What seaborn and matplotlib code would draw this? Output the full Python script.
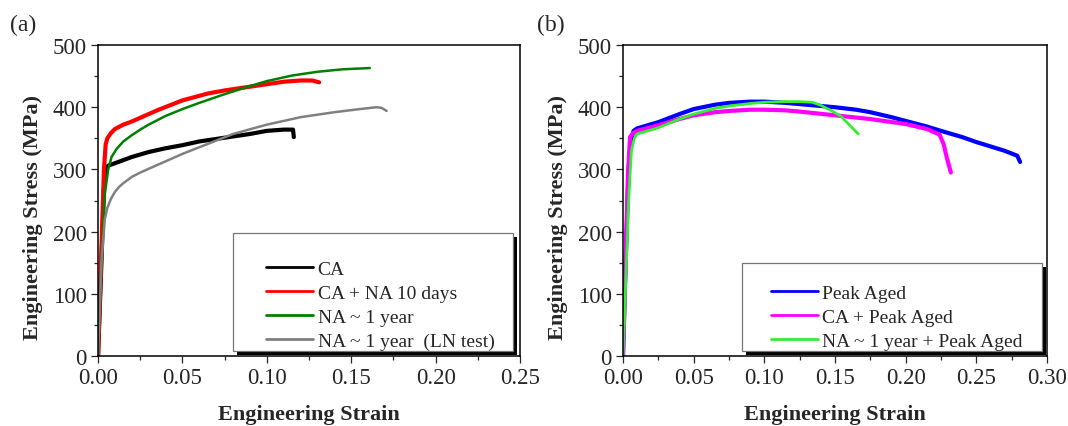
import matplotlib
matplotlib.use('Agg')
import matplotlib.pyplot as plt
from matplotlib.patches import Rectangle
from matplotlib.ticker import MultipleLocator
import seaborn as sns
import pandas as pd

# (a) 곡선 데이터 --------------------------------------------------------
ca_strain = [0, 0.002, 0.0035, 0.0045, 0.006, 0.01, 0.015, 0.02, 0.03, 0.04, 0.05, 0.06, 0.075, 0.09, 0.10, 0.11, 0.1155, 0.116]
ca_stress = [0, 150, 270, 302, 306, 310, 315, 320, 328, 334, 339, 345, 351, 357, 362, 364, 364, 352]

cana_strain = [0, 0.002, 0.0035, 0.0045, 0.0055, 0.0075, 0.01, 0.015, 0.02, 0.025, 0.035, 0.05, 0.065, 0.075, 0.09, 0.10, 0.11, 0.12, 0.127, 0.131]
cana_stress = [0, 170, 300, 340, 350, 358, 365, 372, 377, 383, 395, 411, 422, 427, 433, 437, 441, 443, 443, 440]

na_strain = [0, 0.002, 0.004, 0.006, 0.008, 0.011, 0.015, 0.02, 0.025, 0.03, 0.04, 0.05, 0.06, 0.075, 0.09, 0.10, 0.115, 0.13, 0.145, 0.161]
na_stress = [0, 150, 260, 300, 320, 333, 345, 355, 364, 372, 386, 397, 407, 421, 434, 442, 451, 457, 461, 463]

ln_strain = [0, 0.002, 0.004, 0.0055, 0.0075, 0.01, 0.0125, 0.015, 0.02, 0.025, 0.03, 0.04, 0.05, 0.065, 0.08, 0.10, 0.12, 0.14, 0.155, 0.165, 0.168, 0.171]
ln_stress = [0, 150, 220, 238, 252, 264, 272, 278, 288, 295, 301, 313, 325, 341, 357, 372, 384, 392, 397, 400, 399, 394]

# (b) 곡선 데이터 --------------------------------------------------------
pa_strain = [0, 0.002, 0.004, 0.0055, 0.0075, 0.01, 0.025, 0.04, 0.05, 0.065, 0.075, 0.09, 0.10, 0.115, 0.125, 0.14, 0.15, 0.165, 0.175, 0.19, 0.20, 0.215, 0.225, 0.24, 0.25, 0.27, 0.279, 0.281]
pa_stress = [0, 160, 300, 345, 362, 366, 376, 389, 397, 404, 407, 409, 409, 407, 405, 402, 400, 396, 392, 384, 378, 369, 362, 352, 344, 330, 322, 312]

capa_strain = [0, 0.002, 0.0035, 0.005, 0.007, 0.01, 0.025, 0.04, 0.05, 0.065, 0.075, 0.09, 0.10, 0.115, 0.125, 0.15, 0.175, 0.20, 0.215, 0.224, 0.227, 0.229, 0.232]
capa_stress = [0, 160, 290, 352, 358, 362, 371, 381, 387, 392, 394, 396, 396, 395, 393, 387, 381, 373, 365, 356, 340, 320, 295]

napa_strain = [0, 0.002, 0.004, 0.006, 0.008, 0.01, 0.025, 0.04, 0.05, 0.065, 0.075, 0.09, 0.10, 0.115, 0.125, 0.134, 0.14, 0.147, 0.154, 0.16, 0.1665]
napa_stress = [0, 120, 250, 330, 350, 357, 367, 381, 389, 398, 402, 406, 408, 409, 409, 408, 403, 395, 386, 372, 357]

labels_a = ['CA', 'CA + NA 10 days', 'NA ~ 1 year', 'NA ~ 1 year  (LN test)']
labels_b = ['Peak Aged', 'CA + Peak Aged', 'NA ~ 1 year + Peak Aged']

sns.set_style('ticks')
plt.rcParams['font.family'] = ['Liberation Serif', 'DejaVu Serif']

fig = plt.figure(figsize=(10.68, 4.27), dpi=100)
ax1 = fig.add_axes([0.0918, 0.1639, 0.3951, 0.7283])
ax2 = fig.add_axes([0.5833, 0.1639, 0.3970, 0.7283])

series_a = [(ca_strain, ca_stress, '#000000', 3.0),
            (cana_strain, cana_stress, '#FF0000', 3.0),
            (na_strain, na_stress, '#008000', 1.8),
            (ln_strain, ln_stress, '#808080', 1.8)]
series_b = [(pa_strain, pa_stress, '#0000FF', 3.0),
            (capa_strain, capa_stress, '#FF00FF', 3.0),
            (napa_strain, napa_stress, '#33EE33', 2.0)]

for ax, series, labels in [(ax1, series_a, labels_a), (ax2, series_b, labels_b)]:
    for (x, y, c, lw), lab in zip(series, labels):
        df = pd.DataFrame({'strain': x, 'stress': y})
        sns.lineplot(data=df, x='strain', y='stress', ax=ax, color=c, lw=lw,
                     sort=False, estimator=None, label=lab, legend=False)

ax1.set_xlim(0, 0.25)
ax2.set_xlim(0, 0.30)
for ax in (ax1, ax2):
    ax.set_ylim(0, 500)
    ax.xaxis.set_major_locator(MultipleLocator(0.05))
    ax.xaxis.set_minor_locator(MultipleLocator(0.025))
    ax.yaxis.set_major_locator(MultipleLocator(100))
    ax.yaxis.set_minor_locator(MultipleLocator(50))
    ax.xaxis.set_major_formatter(matplotlib.ticker.FormatStrFormatter('%.2f'))
    ax.tick_params(which='major', direction='out', length=5, width=0.9, labelsize=16.5, pad=3,
                   top=False, right=False)
    ax.tick_params(which='minor', direction='out', length=3, width=0.9, top=False, right=False)
    for s in ax.spines.values():
        s.set_visible(True)
        s.set_linewidth(1.1)
        s.set_color('black')
    ax.set_xlabel('Engineering Strain', fontsize=16, fontweight='bold')
    ax.set_ylabel('Engineering Stress (MPa)', fontsize=16, fontweight='bold')
    ax.xaxis.set_label_coords(0.5, -0.155)
    ax.yaxis.set_label_coords(-0.13, 0.45)

# 범례 상자 + 그림자
def legend_box(ax, x0, x1, y1, hx, cy):
    dx = 4 / (ax.get_position().width * 1068)
    dy = 4 / (ax.get_position().height * 427)
    y0 = 0.016
    ax.add_patch(Rectangle((x0 + dx, y0 - dy), x1 - x0, y1 - y0, transform=ax.transAxes,
                           facecolor='black', edgecolor='none', zorder=5, clip_on=False))
    ax.add_patch(Rectangle((x0, y0), x1 - x0, y1 - y0, transform=ax.transAxes,
                           facecolor='white', edgecolor='#777777', lw=0.9, zorder=6, clip_on=False))
    leg = ax.legend(loc='center left', bbox_to_anchor=(hx, cy), frameon=False, fontsize=14,
                    borderpad=0, borderaxespad=0, handlelength=2.4, handletextpad=0.25,
                    labelspacing=0.33)
    leg.set_zorder(7)
    for line in leg.get_lines():
        line.set_linewidth(2)

legend_box(ax1, 0.320, 0.983, 0.395, 0.398, 0.164)
legend_box(ax2, 0.281, 0.988, 0.299, 0.349, 0.126)

fig.text(23 / 1068, 1 - 25 / 427, '(a)', fontsize=17, ha='center', va='center')
fig.text(551 / 1068, 1 - 25 / 427, '(b)', fontsize=17, ha='center', va='center')

fig.savefig('out.png', dpi=100)
